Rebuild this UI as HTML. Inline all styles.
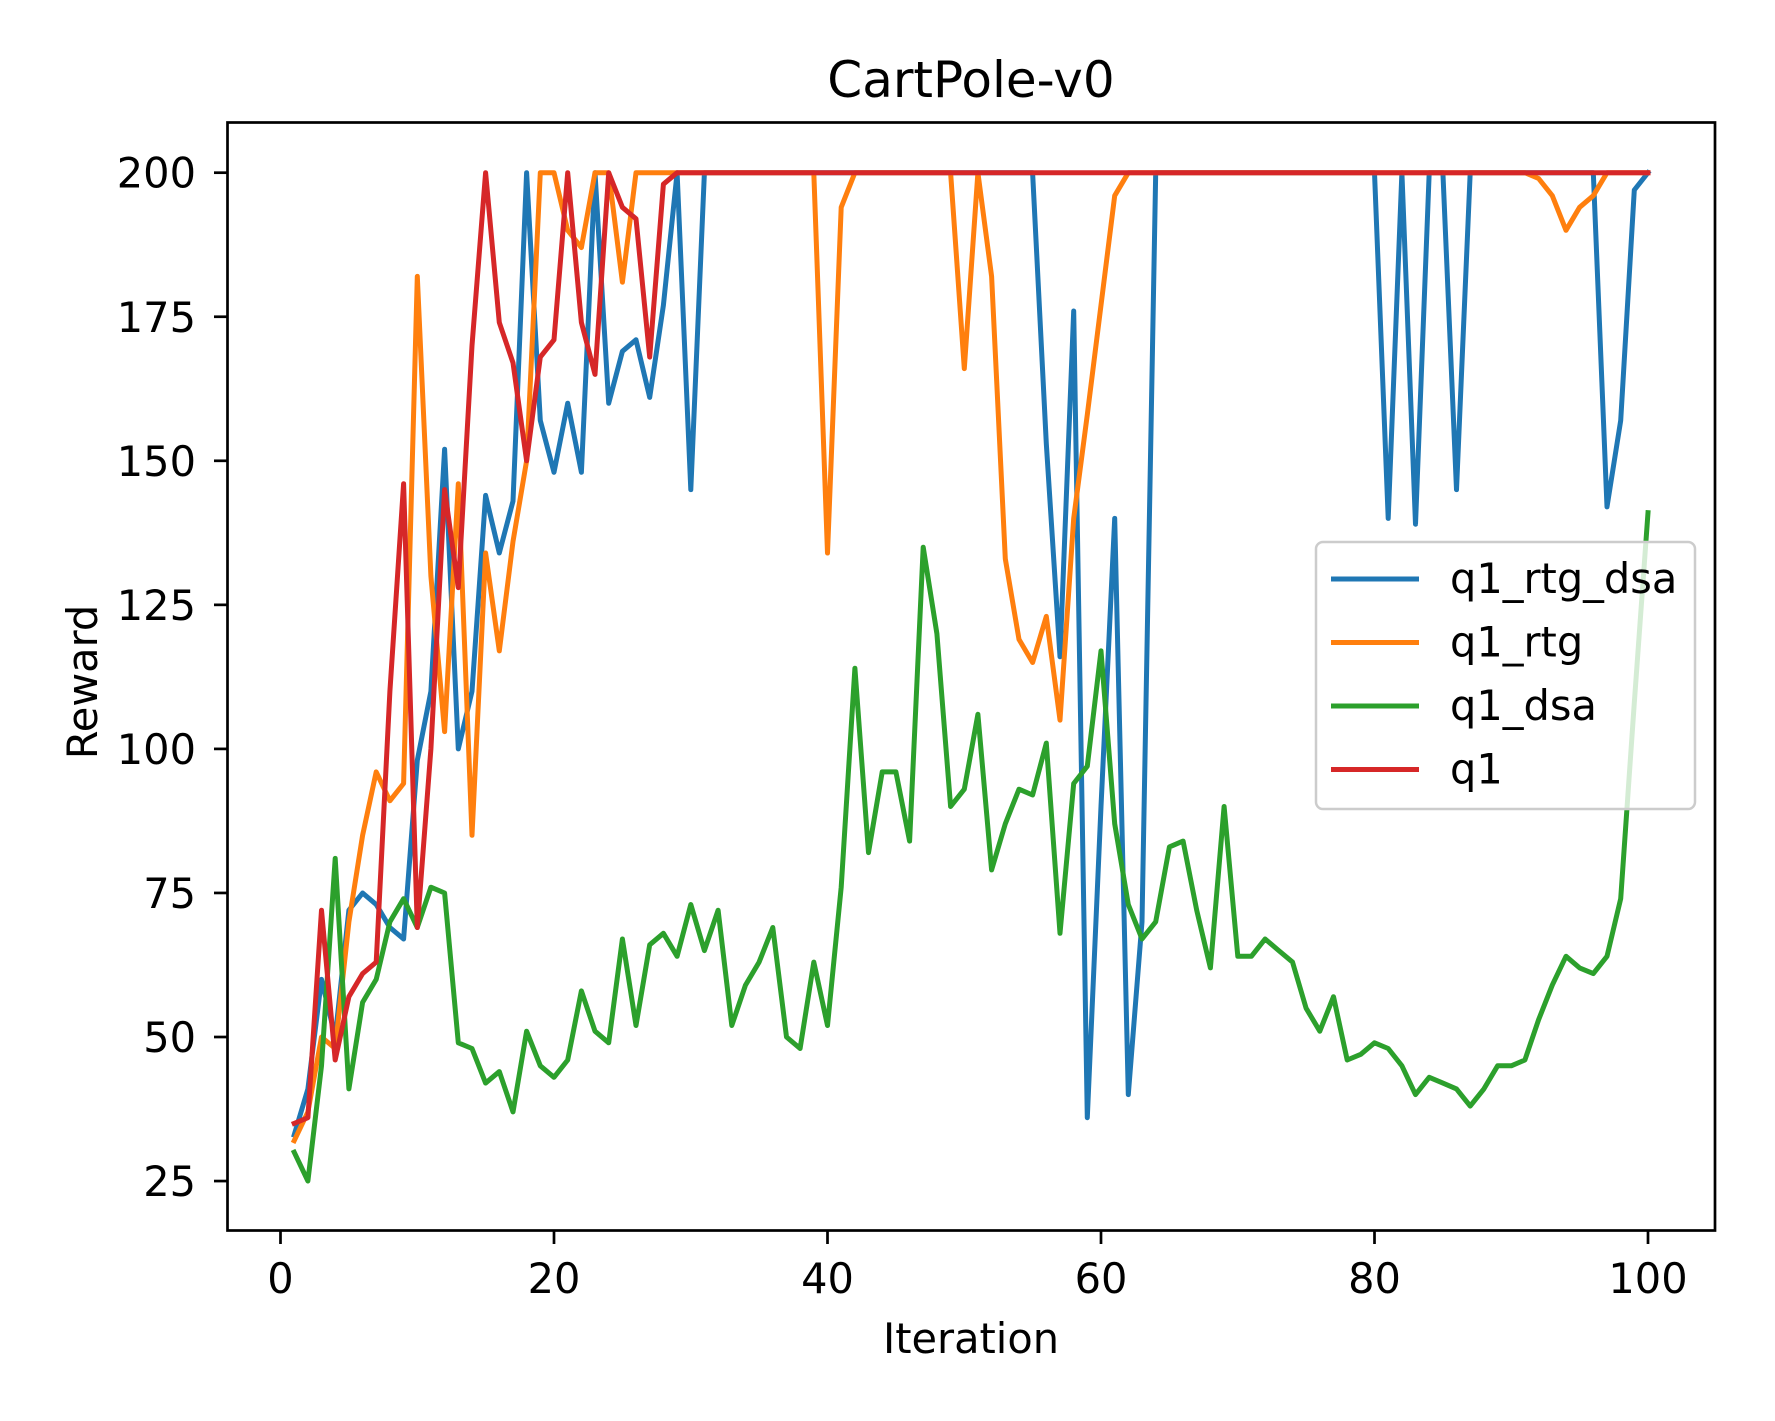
<!DOCTYPE html>
<html><head><meta charset="utf-8"><style>body{margin:0;background:#fff}svg{display:block}text{font-family:"DejaVu Sans","Liberation Sans",sans-serif;fill:#000}</style></head>
<body>
<svg id="chart" width="1775" height="1421" viewBox="0 0 1775 1421" xmlns="http://www.w3.org/2000/svg">
<rect width="1775" height="1421" fill="#fff"/>
<text x="971" y="97" font-size="50" text-anchor="middle">CartPole-v0</text>
<g id="ticks"></g>
<g id="series"></g>
<rect x="227.5" y="122.5" width="1487.5" height="1108" fill="none" stroke="#000" stroke-width="2.7"/>
<text x="971" y="1353" font-size="41.5" text-anchor="middle">Iteration</text>
<text transform="translate(97,682) rotate(-90)" font-size="41.5" text-anchor="middle">Reward</text>
<g id="legend"></g>
</svg>
<script>
const iterations = Array.from({length:100},(_,i)=>i+1);
const q1RtgDsa = [33,41,60,50,72,75,73,69,67,98,110,152,100,110,144,134,143,200,157,148,160,148,200,160,169,171,161,177,200,145,200,200,200,200,200,200,200,200,200,200,200,200,200,200,200,200,200,200,200,200,200,200,200,200,200,153,116,176,36,90,140,40,70,200,200,200,200,200,200,200,200,200,200,200,200,200,200,200,200,200,140,200,139,200,200,145,200,200,200,200,200,200,200,200,200,200,142,157,197,200];
const q1Rtg = [32,37,50,48,70,85,96,91,94,182,130,103,146,85,134,117,136,150,200,200,190,187,200,200,181,200,200,200,200,200,200,200,200,200,200,200,200,200,200,134,194,200,200,200,200,200,200,200,200,166,200,182,133,119,115,123,105,140,158,177,196,200,200,200,200,200,200,200,200,200,200,200,200,200,200,200,200,200,200,200,200,200,200,200,200,200,200,200,200,200,200,199,196,190,194,196,200,200,200,200];
const q1Dsa = [30,25,45,81,41,56,60,70,74,69,76,75,49,48,42,44,37,51,45,43,46,58,51,49,67,52,66,68,64,73,65,72,52,59,63,69,50,48,63,52,76,114,82,96,96,84,135,120,90,93,106,79,87,93,92,101,68,94,97,117,87,73,67,70,83,84,72,62,90,64,64,67,65,63,55,51,57,46,47,49,48,45,40,43,42,41,38,41,45,45,46,53,59,64,62,61,64,74,108,141];
const q1 = [35,36,72,46,57,61,63,110,146,69,100,145,128,170,200,174,167,150,168,171,200,174,165,200,194,192,168,198,200,200,200,200,200,200,200,200,200,200,200,200,200,200,200,200,200,200,200,200,200,200,200,200,200,200,200,200,200,200,200,200,200,200,200,200,200,200,200,200,200,200,200,200,200,200,200,200,200,200,200,200,200,200,200,200,200,200,200,200,200,200,200,200,200,200,200,200,200,200,200,200];
const xTicks = [0,20,40,60,80,100];
const yTicks = [25,50,75,100,125,150,175,200];
const seriesNames = ["q1_rtg_dsa","q1_rtg","q1_dsa","q1"];
const seriesColors = ["#1f77b4","#ff7f0e","#2ca02c","#d62728"];
const seriesData = [q1RtgDsa,q1Rtg,q1Dsa,q1];

const X = v => 280.5 + 13.675*v;
const Y = v => 172.7 + (200 - v)*5.762;
const NS="http://www.w3.org/2000/svg";
function mk(tag, attrs, parent){const e=document.createElementNS(NS,tag);for(const k in attrs)e.setAttribute(k,attrs[k]);parent.appendChild(e);return e;}
const tg=document.getElementById('ticks');
xTicks.forEach(t=>{
  const l=mk('line',{x1:X(t),x2:X(t),y1:1230.5,y2:1244,stroke:'#000','stroke-width':2.7},tg);
  
  
  const tx=mk('text',{x:X(t),y:1293,'font-size':41.5,'text-anchor':'middle'},tg);
  tx.textContent=t;
  
  
});
yTicks.forEach(t=>{
  const l=mk('line',{x1:214,x2:227.5,y1:Y(t),y2:Y(t),stroke:'#000','stroke-width':2.7},tg);
  
  
  const tx=mk('text',{x:196,y:Y(t)+15,'font-size':41.5,'text-anchor':'end'},tg);
  tx.textContent=t;
  
  
});
const sg=document.getElementById('series');
seriesData.forEach((d,si)=>{
  const pts=d.map((v,i)=>X(iterations[i]).toFixed(1)+','+Y(v).toFixed(1)).join(' ');
  const p=mk('polyline',{points:pts,fill:'none',stroke:seriesColors[si],'stroke-width':5,'stroke-linejoin':'round','stroke-linecap':'square'},sg);
  
  
});
const lg=document.getElementById('legend');
const box=mk('rect',{x:1316,y:542,width:379,height:267,rx:7,fill:'#fff','fill-opacity':0.8,stroke:'#ccc','stroke-width':2.5},lg);


seriesNames.forEach((n,i)=>{
  const y=579+i*63.5;
  const l=mk('line',{x1:1331,x2:1419,y1:y,y2:y,stroke:seriesColors[i],'stroke-width':5},lg);
  
  
  const t=mk('text',{x:1450,y:y+14,'font-size':41.5},lg);
  t.textContent=n;
  
  
});
</script>
</body></html>
